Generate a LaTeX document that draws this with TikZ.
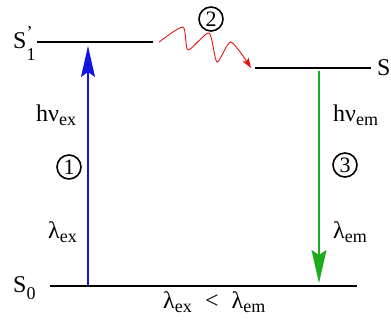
\documentclass[tikz,border=0pt]{standalone}
\usepackage{fontspec}
\setmainfont{Liberation Serif}
\usetikzlibrary{arrows.meta}
\newcommand\lsub[2][-0.2em]{\raisebox{#1}{\fontsize{18}{19}\selectfont #2}}
\definecolor{exblue}{RGB}{20,20,225}
\definecolor{emgreen}{RGB}{30,170,30}
\definecolor{relred}{RGB}{230,20,20}
\begin{document}
\begin{tikzpicture}[x=1pt,y=-1pt,
  lvl/.style={line width=1.8pt, black},
  lbl/.style={font=\fontsize{24}{26}\selectfont, inner sep=0pt, anchor=base west},
  circ/.style={circle, draw, line width=1.6pt, minimum size=24pt, inner sep=0pt, font=\fontsize{22}{23}\selectfont},
  exarrow/.style={draw=exblue, line width=1.6pt, -{Stealth[length=31pt, width=14pt, inset=5pt]}},
  emarrow/.style={draw=emgreen, line width=1.2pt, -{Stealth[length=33pt, width=15pt, inset=5pt]}},
  relax/.style={draw=relred, line width=0.9pt, -{Stealth[length=10pt, width=7pt, inset=2pt]}}
]
\useasboundingbox (0,0) rectangle (391,322);
% levels
\coordinate (s1pL) at (37,42);
\coordinate (s1pR) at (153,42);
\coordinate (s1L) at (255,68);
\coordinate (s1R) at (371,68);
\coordinate (s0L) at (50,286);
\coordinate (s0R) at (357,286);
\draw[lvl] (s1pL) -- (s1pR);
\draw[lvl] (s1L) -- (s1R);
\draw[lvl] (s0L) -- (s0R);
% level labels
\node[lbl] (labS1p) at (13,48) {S\rlap{\raisebox{0.4em}{\fontsize{18}{19}\selectfont ’}}\lsub[-0.5em]{1}};
\node[lbl] (labS1) at (377,75) {S};
\node[lbl] (labS0) at (13,292) {S\lsub[-0.33em]{0}};
% excitation
\coordinate (exA) at (88,285);
\coordinate (exB) at (88,46);
\draw[exarrow] (exA) -- (exB);
\node[lbl] (hvex) at (36,121) {hν\lsub{ex}};
\node[circ] (c1) at (69,167) {1};
\node[lbl] (lex) at (48,238) {λ\lsub{ex}};
% emission
\coordinate (emA) at (319,71);
\coordinate (emB) at (319,283);
\draw[emarrow] (emA) -- (emB);
\node[lbl] (hvem) at (333,121) {hν\lsub{em}};
\node[circ] (c3) at (345,165) {3};
\node[lbl] (lem) at (333,238) {λ\lsub{em}};
% relaxation
\coordinate (rA) at (159,42);
\coordinate (rB) at (251,68);
\draw[relax] plot[smooth, tension=0.4] coordinates {(rA) (183,27) (188,50) (209,33) (217,62) (231,42) (rB)};
\node[circ] (c2) at (211,19) {2};
% bottom relation
\node[lbl] (rel) at (163,308) {λ\lsub{ex}\hspace{0.55em}<\hspace{0.55em}λ\lsub{em}};
\end{tikzpicture}
\end{document}
